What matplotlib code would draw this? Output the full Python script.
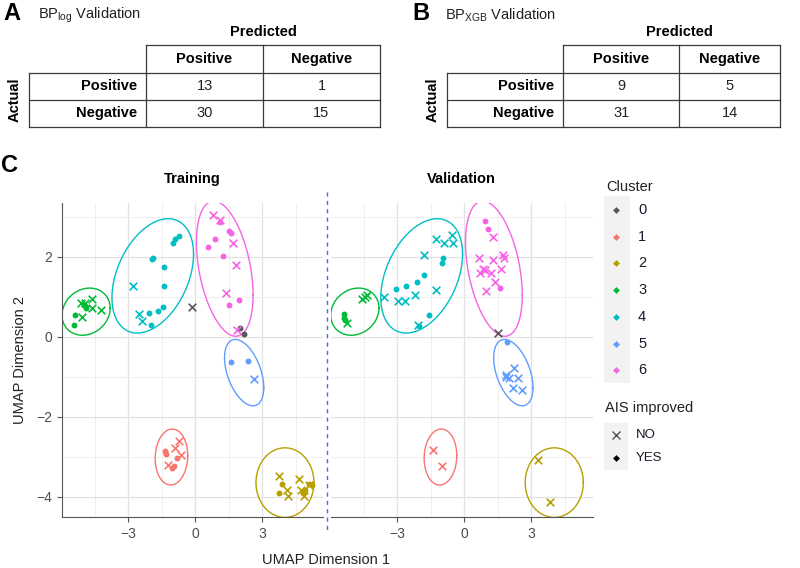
import numpy as np
import matplotlib.pyplot as plt
from matplotlib.patches import Rectangle

plt.rcParams['font.family'] = ['Liberation Sans', 'DejaVu Sans']
plt.rcParams['mathtext.fontset'] = 'custom'
plt.rcParams['mathtext.rm'] = 'Liberation Sans'

# confusion tables (rows: actual positive / negative, cols: predicted positive / negative)
table_labels = ['Positive', 'Negative']
table_log = [[13, 1], [30, 15]]
table_xgb = [[9, 5], [31, 14]]

# UMAP embedding, training set
train_x = [-0.15, 1.99, 2.20,
           -0.75, -0.90, -0.64, -1.24, -1.35, -1.30, -0.82, -1.05, -0.97,
           3.74, 4.63, 4.11, 4.16, 4.74, 4.86, 5.08, 3.89, 3.74, 4.93, 5.08, 5.23, 4.83,
           -5.13, -4.93, -4.63, -4.63, -4.23, -5.08, -5.38, -5.46, -4.89, -5.01,
           -2.81, -2.51, -2.39, -0.75, -0.90, -1.00, -1.90, -1.93, -1.39, -1.39, -1.47, -1.66, -2.06, -1.99,
           2.61, 1.61, 2.35,
           0.79, 1.09, 1.67, 1.84, 1.39, 1.87, 1.09, 1.49, 1.60, 0.87, 0.57, 1.26, 1.52, 1.97]
train_y = [0.74, 0.22, 0.07,
           -2.62, -2.78, -2.95, -3.20, -2.87, -2.93, -3.03, -3.28, -3.24,
           -3.48, -3.56, -3.83, -3.98, -3.84, -3.98, -3.70, -3.68, -3.91, -3.83, -3.68, -3.70, -3.91,
           0.83, 0.84, 0.93, 0.72, 0.66, 0.48, 0.53, 0.28, 0.72, 0.80,
           1.26, 0.57, 0.40, 2.51, 2.43, 2.33, 1.97, 1.93, 1.74, 1.26, 0.74, 0.63, 0.58, 0.28,
           -1.06, -0.64, -0.62,
           3.03, 2.91, 2.34, 1.78, 1.08, 0.16, 2.86, 2.63, 2.59, 2.43, 2.23, 2.01, 0.79, 0.91]
train_cluster = list("000" "111111111" "2222222222222" "3333333333"
                     "44444444444444" "555" "66666666666666")
train_improved = list("NYY" "NNNNYYYYY" "NNNNNNNYYYYYY" "NNNNNNYYYY"
                      "NNNYYYYYYYYYYY" "NYY" "NNNNNNYYYYYYYY")

# UMAP embedding, validation set
val_x = [1.49,
         -1.42, -1.02,
         3.29, 3.81,
         -4.56, -4.44, -4.34, -5.23, -5.38, -5.38, -5.34,
         -1.27, -0.90, -0.55, -0.52, -1.79, -3.59, -2.95, -2.65, -2.21, -1.27, -2.09,
         -0.97, -1.00, -1.81, -2.14, -2.61, -3.06, -1.60, -2.02,
         1.91, 2.21, 1.87, 1.99, 2.42, 2.17, 2.59, 1.84,
         0.94, 1.04, 1.60, 1.27, 0.67, 1.30, 1.72, 1.79, 1.64, 0.82, 0.70, 0.94, 1.20, 1.37, 0.97]
val_y = [0.09,
         -2.84, -3.24,
         -3.08, -4.14,
         0.93, 0.99, 1.03, 0.34, 0.57, 0.47, 0.41,
         2.44, 2.34, 2.55, 2.34, 2.03, 0.99, 0.88, 0.90, 1.03, 1.16, 0.30,
         1.97, 1.83, 1.53, 1.36, 1.26, 1.18, 0.53, 0.26,
         -0.14, -0.78, -0.95, -1.03, -1.03, -1.28, -1.33, -1.01,
         2.88, 2.69, 1.22, 2.49, 1.97, 1.91, 2.05, 1.97, 1.68, 1.68, 1.59, 1.66, 1.58, 1.36, 1.13]
val_cluster = list("0" "11" "22" "3333333" "4444444444444444444" "55555555" "666666666666666")
val_improved = list("N" "NN" "NN" "NNNNYYY" "NNNNNNNNNNNYYYYYYYY" "YNNNNNNN" "YYYNNNNNNNNNNNN")

# cluster ellipses: centre, half extents, correlation
ell_cluster = ['1', '2', '3', '4', '5', '6']
ell_cx = [-1.07, 4.02, -4.90, -1.91, 2.19, 1.32]
ell_cy = [-3.01, -3.65, 0.625, 1.52, -0.90, 1.70]
ell_rx = [0.73, 1.30, 1.08, 1.83, 0.88, 1.27]
ell_ry = [0.70, 0.87, 0.59, 1.43, 0.83, 1.69]
ell_rho = [0.05, 0.0, 0.15, 0.38, -0.45, -0.39]

clusters = ['0', '1', '2', '3', '4', '5', '6']
colors = {'0': '#595959', '1': '#F8766D', '2': '#B79F00', '3': '#00BA38',
          '4': '#00BFC4', '5': '#619CFF', '6': '#F564E3'}

W, H = 800, 568
fig = plt.figure(figsize=(8, 5.68), dpi=100)


def px_axes(x0, y0, x1, y1):
    return fig.add_axes([x0 / W, 1 - y1 / H, (x1 - x0) / W, (y1 - y0) / H])


def draw_panel(ax, xs, ys, cl, imp, left_axis):
    xs, ys = np.array(xs), np.array(ys)
    cl, imp = np.array(cl), np.array(imp)
    t = np.linspace(0, 2 * np.pi, 300)
    for c, cx, cy, rx, ry, rho in zip(ell_cluster, ell_cx, ell_cy, ell_rx, ell_ry, ell_rho):
        phi = np.arccos(rho)
        ax.plot(cx + rx * np.cos(t), cy + ry * np.cos(t - phi), color=colors[c], lw=1.0, zorder=2)
    for i in range(len(xs)):
        col = colors[cl[i]]
        if imp[i] == 'N':
            ax.scatter(xs[i], ys[i], marker='x', s=30, color=col, linewidths=1.2, zorder=3)
        else:
            ax.scatter(xs[i], ys[i], marker='o', s=18, color=col, linewidths=0, zorder=3)
    ax.set_xlim(-5.98, 5.74)
    ax.set_ylim(-4.51, 3.35)
    ax.set_xticks([-3, 0, 3])
    ax.set_xticks([-4.5, -1.5, 1.5, 4.5], minor=True)
    ax.set_yticks([-4, -2, 0, 2])
    ax.set_yticks([-3, -1, 1, 3], minor=True)
    ax.grid(which='major', color='#e2e2e2', lw=0.9)
    ax.grid(which='minor', color='#efefef', lw=0.7)
    ax.set_axisbelow(True)
    for s in ['top', 'right']:
        ax.spines[s].set_visible(False)
    ax.spines['bottom'].set_color('#555555')
    ax.spines['left'].set_color('#555555')
    ax.tick_params(which='major', length=3.5, width=0.8, color='#555555',
                   labelsize=10, labelcolor='#4d4d4d')
    ax.tick_params(which='minor', length=0)
    if not left_axis:
        ax.spines['left'].set_visible(False)
        ax.tick_params(axis='y', which='both', left=False, labelleft=False)


ax_tr = px_axes(62, 202.7, 323.3, 517)
draw_panel(ax_tr, train_x, train_y, train_cluster, train_improved, True)
ax_va = px_axes(330.7, 202.7, 592.7, 517)
draw_panel(ax_va, val_x, val_y, val_cluster, val_improved, False)

# overlay for tables, labels and legend
ov = fig.add_axes([0, 0, 1, 1])
ov.set_xlim(0, W)
ov.set_ylim(H, 0)
ov.axis('off')
ov.patch.set_alpha(0)


def draw_table(letter, lx, title, tx, edges, values, actual_x):
    left, hleft, mid, right = edges
    rows = [45, 72.7, 100, 126.7]
    lc = '#3a3a3a'
    ov.text(lx, 14, letter, fontsize=17, fontweight='bold', ha='center', va='center')
    ov.text(tx, 15, title, fontsize=10.5, color='#222222', ha='left', va='center')
    ov.text(mid, 31.5, 'Predicted', fontsize=10.5, fontweight='bold', ha='center', va='center')
    ov.text(actual_x, 100, 'Actual', fontsize=10.5, fontweight='bold', rotation=90,
            ha='center', va='center')
    ov.plot([hleft, right], [rows[0], rows[0]], color=lc, lw=0.9)
    for r in rows[1:]:
        ov.plot([left, right], [r, r], color=lc, lw=0.9)
    ov.plot([left, left], [rows[1], rows[3]], color=lc, lw=0.9)
    for v in [hleft, mid, right]:
        ov.plot([v, v], [rows[0], rows[3]], color=lc, lw=0.9)
    cols = [(hleft + mid) / 2, (mid + right) / 2]
    for j, lab in enumerate(table_labels):
        ov.text(cols[j], (rows[0] + rows[1]) / 2, lab, fontsize=10.5, fontweight='bold',
                ha='center', va='center')
    for i, lab in enumerate(table_labels):
        yc = (rows[i + 1] + rows[i + 2]) / 2
        ov.text(hleft - 9, yc, lab, fontsize=10.5, fontweight='bold', ha='right', va='center')
        for j in range(2):
            ov.text(cols[j], yc, str(values[i][j]), fontsize=10.5, color='#222222',
                    ha='center', va='center')


draw_table('A', 11.7, r'BP$_{\mathrm{log}}$ Validation', 38, (29, 146, 263, 380), table_log, 15)
draw_table('B', 420.7, r'BP$_{\mathrm{XGB}}$ Validation', 445, (446.7, 563.3, 679.3, 780),
           table_xgb, 432.5)

ov.text(10, 165, 'C', fontsize=17, fontweight='bold', ha='center', va='center')
ov.text((62 + 323.3) / 2, 179, 'Training', fontsize=10.5, fontweight='bold', ha='center', va='center')
ov.text((330.7 + 592.7) / 2, 179, 'Validation', fontsize=10.5, fontweight='bold',
        ha='center', va='center')
ov.text(326, 560, 'UMAP Dimension 1', fontsize=10.5, color='#222222', ha='center', va='center')
ov.text(20, 360, 'UMAP Dimension 2', fontsize=10.5, color='#222222', rotation=90,
        ha='center', va='center')
ov.plot([327, 327], [192, 533], color='#4472C4', lw=1.0, dashes=(3, 3))

# legend
ov.text(606, 187, 'Cluster', fontsize=10.5, color='#222222', ha='left', va='center')
ov.add_patch(Rectangle((604, 196), 26, 187, facecolor='#f2f2f2', edgecolor='none'))
for i, c in enumerate(clusters):
    yy = 210 + 26.7 * i
    ov.plot(616, yy, marker='D', ms=3.5, color=colors[c], mec='none')
    ov.text(638, yy, c, fontsize=10.5, color='#1a1a2a', ha='left', va='center')
ov.text(605, 408, 'AIS improved', fontsize=10.5, color='#222222', ha='left', va='center')
ov.add_patch(Rectangle((604, 423), 24, 47, facecolor='#f2f2f2', edgecolor='none'))
ov.plot(616, 435, marker='x', ms=5.5, mew=1.0, color='#555555')
ov.plot(616, 458, marker='D', ms=3.5, color='black', mec='none')
ov.text(636, 435, 'NO', fontsize=9.5, color='#1a1a2a', ha='left', va='center')
ov.text(636, 458, 'YES', fontsize=9.5, color='#1a1a2a', ha='left', va='center')

fig.savefig('out.png', dpi=100)
